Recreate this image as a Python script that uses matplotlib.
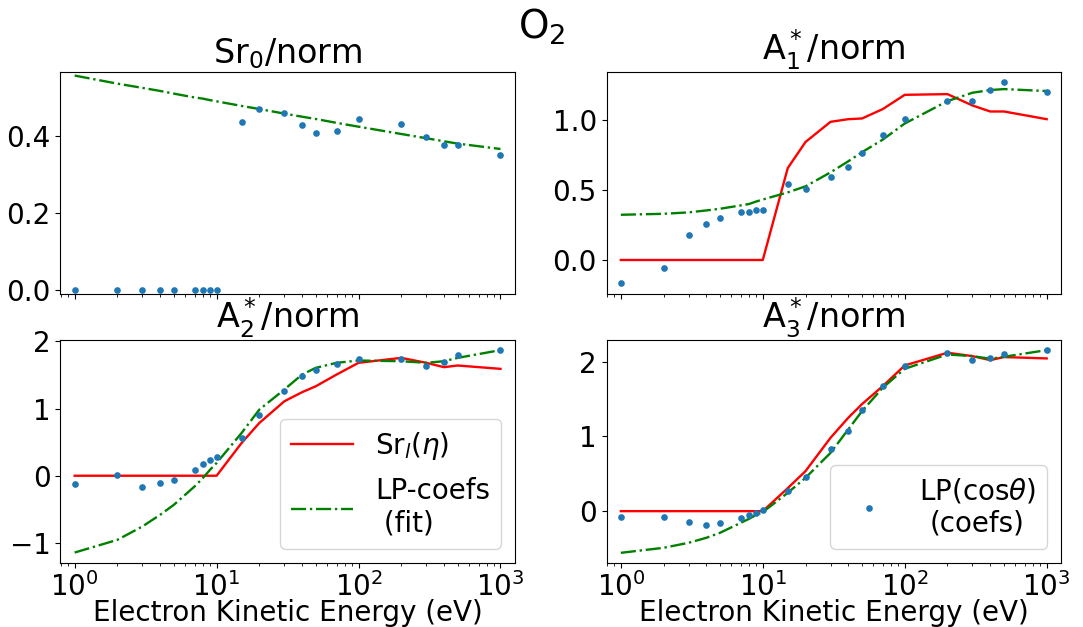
import numpy as np
import matplotlib
matplotlib.use("Agg")
import matplotlib.pyplot as plt

# electron kinetic energies (eV)
energy = [1, 2, 3, 4, 5, 7, 8, 9, 10, 15, 20, 30, 40, 50, 70, 100, 200, 300, 400, 500, 1000]

# Sr0/norm
sr0_pts = [0, 0, 0, 0, 0, 0, 0, 0, 0, 0.435, 0.469, 0.460, 0.428, 0.407, 0.414, 0.443,
           0.432, 0.397, 0.377, 0.376, 0.351]
sr0_fit = [0.557, 0.536, 0.525, 0.517, 0.510, 0.500, 0.497, 0.493, 0.490, 0.478, 0.470,
           0.458, 0.450, 0.444, 0.434, 0.424, 0.405, 0.394, 0.386, 0.380, 0.366]

# A1*/norm
a1_pts = [-0.167, -0.055, 0.177, 0.256, 0.301, 0.344, 0.344, 0.358, 0.358, 0.542, 0.504,
          0.590, 0.664, 0.767, 0.891, 1.004, 1.137, 1.133, 1.214, 1.269, 1.197]
a1_sr = [0, 0, 0, 0, 0, 0, 0, 0, 0, 0.657, 0.843, 0.987, 1.006, 1.011, 1.078, 1.180,
         1.185, 1.104, 1.061, 1.061, 1.006]
a1_fit = [0.323, 0.330, 0.340, 0.354, 0.366, 0.390, 0.400, 0.418, 0.432, 0.483, 0.526,
          0.626, 0.705, 0.770, 0.860, 0.975, 1.135, 1.195, 1.214, 1.221, 1.207]

# A2*/norm
a2_pts = [-0.129, 0.015, -0.169, -0.114, -0.070, 0.080, 0.169, 0.229, 0.274, 0.562, 0.900,
          1.269, 1.493, 1.582, 1.662, 1.741, 1.741, 1.632, 1.697, 1.791, 1.871]
a2_sr = [0, 0, 0, 0, 0, 0, 0, 0, 0, 0.488, 0.786, 1.109, 1.244, 1.333, 1.507, 1.682,
         1.756, 1.682, 1.617, 1.642, 1.592]
a2_fit = [-1.144, -0.955, -0.756, -0.582, -0.433, -0.159, -0.035, 0.090, 0.190, 0.637, 0.985,
          1.284, 1.507, 1.607, 1.682, 1.716, 1.706, 1.682, 1.706, 1.756, 1.871]

# A3*/norm
a3_pts = [-0.076, -0.076, -0.147, -0.179, -0.161, -0.094, -0.058, -0.022, 0.018, 0.268, 0.460,
          0.830, 1.067, 1.353, 1.674, 1.942, 2.112, 2.027, 2.049, 2.107, 2.152]
a3_sr = [0, 0, 0, 0, 0, 0, 0, 0, 0, 0.308, 0.536, 0.982, 1.250, 1.433, 1.674, 1.951,
         2.121, 2.076, 2.022, 2.063, 2.045]
a3_fit = [-0.558, -0.491, -0.424, -0.357, -0.290, -0.156, -0.103, -0.049, -0.013, 0.246, 0.446,
          0.780, 1.094, 1.339, 1.652, 1.906, 2.098, 2.076, 2.040, 2.067, 2.156]

plt.rcParams["font.size"] = 20

fig, axes = plt.subplots(2, 2, figsize=(10.83, 6.27), dpi=100, sharex=True)
fig.subplots_adjust(left=0.0557, right=0.9797, top=0.8856, bottom=0.1026,
                    wspace=0.2017, hspace=0.206)

panels = [
    (axes[0, 0], "Sr$_0$/norm", sr0_pts, None, sr0_fit, (-0.012, 0.567)),
    (axes[0, 1], "A$_1^*$/norm", a1_pts, a1_sr, a1_fit, (-0.245, 1.345)),
    (axes[1, 0], "A$_2^*$/norm", a2_pts, a2_sr, a2_fit, (-1.295, 2.02)),
    (axes[1, 1], "A$_3^*$/norm", a3_pts, a3_sr, a3_fit, (-0.69, 2.29)),
]

for ax, title, pts, sr, fit, ylim in panels:
    if sr is not None:
        ax.plot(energy, sr, "r-", lw=1.7, label=r"Sr$_l(\eta)$")
    ax.plot(energy, fit, "g-.", lw=1.7, label="LP-coefs\n (fit)")
    ax.plot(energy, pts, "o", color="#1f77b4", ms=4.8, mew=0,
            label="LP(cos$\\theta$)\n(coefs)")
    ax.set_xscale("log")
    ax.set_xlim(10 ** -0.101, 10 ** 3.101)
    ax.set_ylim(*ylim)
    ax.set_title(title, fontsize=24)

axes[0, 0].set_yticks([0.0, 0.2, 0.4])
axes[0, 1].set_yticks([0.0, 0.5, 1.0])
axes[1, 0].set_yticks([-1, 0, 1, 2])
axes[1, 1].set_yticks([0, 1, 2])

for ax in axes[1]:
    ax.set_xlabel("Electron Kinetic Energy (eV)", fontsize=20)
    ax.xaxis.set_label_coords(0.5, -0.165)

h, l = axes[1, 0].get_legend_handles_labels()
axes[1, 0].legend(h[:2], l[:2], loc="lower right", fontsize=20, labelspacing=0.55,
                  handlelength=2.2)
h, l = axes[1, 1].get_legend_handles_labels()
leg = axes[1, 1].legend(h[2:], l[2:], loc="lower right", fontsize=20)
leg.get_texts()[0].set_multialignment("center")

fig.suptitle("O$_2$", fontsize=28, y=0.99)
fig.savefig("out.png", dpi=100)
